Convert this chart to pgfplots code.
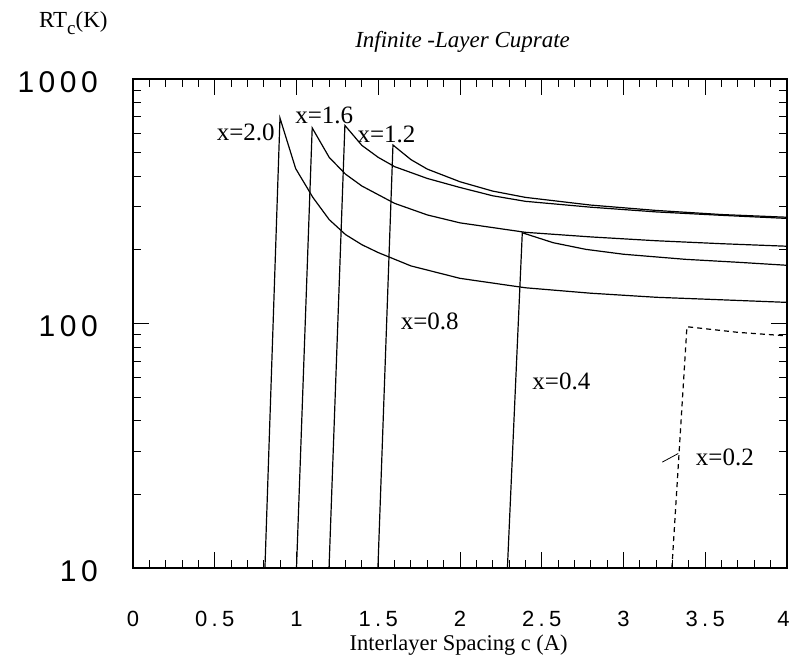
\documentclass[border=0pt]{standalone}
\usepackage{fontspec}
\setmainfont{Liberation Serif}
\newfontfamily\ytfont[LetterSpace=15]{Liberation Sans}
\newfontfamily\xtfont[LetterSpace=20]{Liberation Sans}
\usepackage{pgfplots}
\pgfplotsset{compat=1.18}

% curve for x=2.0
\pgfplotstableread{
c T
0.807 10
0.899 692
0.995 430
1.1 328
1.2 266
1.3 231
1.4 210
1.5 195
1.7 172
2.0 153
2.4 140
2.8 133
3.2 128
3.6 125
4.0 122
}\curveA
% x=1.6
\pgfplotstableread{
c T
1.000 10
1.096 631
1.2 478
1.3 408
1.4 365
1.6 310
1.8 278
2.0 258
2.4 236
2.8 226
3.2 218
3.6 212
4.0 207
}\curveB
% x=1.2
\pgfplotstableread{
c T
1.199 10
1.296 646
1.4 535
1.5 478
1.6 438
1.8 392
2.0 360
2.2 333
2.4 316
2.8 299
3.2 286
3.6 277
4.0 269
}\curveC
% x=0.8
\pgfplotstableread{
c T
1.498 10
1.590 537
1.7 468
1.8 428
2.0 380
2.2 348
2.4 328
2.8 305
3.2 290
3.6 279
4.0 272
}\curveD
% x=0.4
\pgfplotstableread{
c T
2.290 10
2.381 235
2.57 214
2.77 201
3.0 192
3.38 183
3.7 178
4.0 173
}\curveE
% x=0.2 (dashed)
\pgfplotstableread{
c T
3.296 10
3.388 97
3.7 92
4.0 89
}\curveF

\begin{document}
\begin{tikzpicture}
\useasboundingbox (-133bp,-88bp) rectangle (658bp,568bp);
\begin{axis}[
    at={(0,0)}, anchor=south west,
    scale only axis, width=654bp, height=489bp,
    xmin=0, xmax=4,
    ymode=log, ymin=10, ymax=1000,
    xtick={0,0.5,1,1.5,2,2.5,3,3.5,4},
    xticklabels={0,0.5,1,1.5,2,2.5,3,3.5,4\kern7bp},
    minor x tick num=4,
    ytick={10,100,1000},
    yticklabels={10,100,1000},
    tick align=inside,
    major tick length=16bp, minor tick length=8bp,
    every tick/.style={black, line width=1bp},
    axis line style={line width=1.3bp},
    x tick label style={font=\xtfont\fontsize{22bp}{22bp}\selectfont,
        anchor=center, inner sep=0pt, yshift=-51bp},
    y tick label style={font=\ytfont\fontsize{30bp}{30bp}\selectfont,
        anchor=east, inner sep=0pt, xshift=-35bp, yshift=-3bp},
    clip=false,
    curve/.style={black, no markers, line width=1.2bp},
]
\addplot[curve] table[x=c, y=T] {\curveA};
\addplot[curve] table[x=c, y=T] {\curveB};
\addplot[curve] table[x=c, y=T] {\curveC};
\addplot[curve] table[x=c, y=T] {\curveD};
\addplot[curve] table[x=c, y=T] {\curveE};
\addplot[curve, dash pattern=on 5bp off 4bp] table[x=c, y=T] {\curveF};
\addplot[curve, line width=0.8bp] coordinates {(3.237,27.1) (3.335,29.4)};

\begin{scope}[every node/.style={font=\fontsize{25bp}{25bp}\selectfont, inner sep=0pt}]
\node at (axis cs:0.69,605) {x=2.0};
\node at (axis cs:1.17,711) {x=1.6};
\node at (axis cs:1.55,593) {x=1.2};
\node at (axis cs:1.815,102) {x=0.8};
\node at (axis cs:2.62,58) {x=0.4};
\node at (axis cs:3.62,28.3) {x=0.2};
\end{scope}

\node[font=\itshape\fontsize{23bp}{23bp}\selectfont, anchor=base, inner sep=0pt]
  at (axis description cs:0.504,1.065) {Infinite -Layer Cuprate};
\node[font=\fontsize{22.5bp}{22.5bp}\selectfont, anchor=base, inner sep=0pt]
  at (axis description cs:0.498,-0.169) {Interlayer Spacing c (A)};
\node[font=\fontsize{23bp}{23bp}\selectfont, anchor=base west, inner sep=0pt]
  at (axis description cs:-0.1437,1.1043) {RT\raisebox{-7bp}{\fontsize{19bp}{19bp}\selectfont c}(K)};
\end{axis}
\end{tikzpicture}
\end{document}
